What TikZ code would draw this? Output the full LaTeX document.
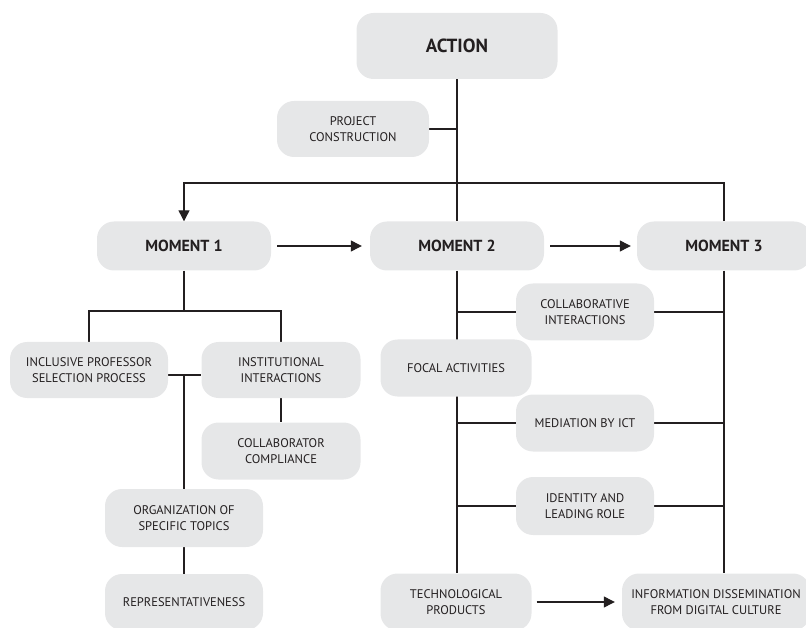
\documentclass[tikz,border=0pt]{standalone}
\usepackage{fontspec}
\setmainfont{PT Sans}
\usetikzlibrary{arrows.meta,backgrounds}
\definecolor{boxfill}{HTML}{E6E7E8}
\definecolor{ink}{HTML}{231F20}
\begin{document}
\begin{tikzpicture}[x=1pt,y=-1pt,
  box/.style={fill=boxfill,rounded corners=17pt,align=center,inner sep=2pt,
    font=\fontsize{12.5}{16.5}\selectfont,text=ink},
  bbox/.style={box,font=\fontsize{16}{18}\selectfont\bfseries},
  conn/.style={draw=ink,line width=1.2pt},
  arr/.style={conn,-{Triangle[length=11pt,width=11pt]}}]
\useasboundingbox (0,0) rectangle (806,628);
% nodes
\node[bbox,minimum width=201pt,minimum height=66pt,font=\fontsize{19}{22}\selectfont\bfseries] (act) at (457,46) {ACTION};
\node[box,minimum width=152pt,minimum height=56pt] (pc) at (353,129) {PROJECT\\CONSTRUCTION};
\node[bbox,minimum width=174pt,minimum height=49pt] (m1) at (184,246) {MOMENT 1};
\node[bbox,minimum width=174pt,minimum height=49pt] (m2) at (457,246) {MOMENT 2};
\node[bbox,minimum width=174pt,minimum height=49pt] (m3) at (724,246) {MOMENT 3};
\node[box,minimum width=158pt,minimum height=56pt] (ipsp) at (89,370) {INCLUSIVE PROFESSOR\\SELECTION PROCESS};
\node[box,minimum width=159pt,minimum height=56pt] (inst) at (281,370) {INSTITUTIONAL\\INTERACTIONS};
\node[box,minimum width=159pt,minimum height=57pt] (cc) at (281,451) {COLLABORATOR\\COMPLIANCE};
\node[box,minimum width=158pt,minimum height=58pt] (org) at (184,518) {ORGANIZATION OF\\SPECIFIC TOPICS};
\node[box,minimum width=158pt,minimum height=56pt] (rep) at (184,602) {REPRESENTATIVENESS};
\node[box,minimum width=138pt,minimum height=57pt] (ci) at (585,312) {COLLABORATIVE\\INTERACTIONS};
\node[box,minimum width=151pt,minimum height=57pt] (fa) at (456,368) {FOCAL ACTIVITIES};
\node[box,minimum width=138pt,minimum height=57pt] (med) at (585,423) {MEDIATION BY ICT};
\node[box,minimum width=138pt,minimum height=58pt] (idr) at (585,506) {IDENTITY AND\\LEADING ROLE};
\node[box,minimum width=151pt,minimum height=57pt] (tech) at (456,602) {TECHNOLOGICAL\\PRODUCTS};
\node[box,minimum width=188pt,minimum height=57pt] (info) at (716,602) {INFORMATION DISSEMINATION\\FROM DIGITAL CULTURE};
\coordinate (top) at (457,183);
\coordinate (b1) at (184,311);
\coordinate (j1) at (184,375);
% connectors
\begin{scope}[on background layer]
\draw[conn] (act.south) -- (m2.north);
\draw[conn] (pc.east) -- (pc.east -| act.south);
\draw[arr] (m3.north) |- (top) -| (m1.north);
\draw[arr] ([xshift=6pt]m1.east) -- ([xshift=-8pt]m2.west);
\draw[arr] ([xshift=6pt]m2.east) -- ([xshift=-6pt]m3.west);
\draw[conn] (m1.south) -- (b1);
\draw[conn] (ipsp.north) |- (b1) -| (inst.north);
\draw[conn] (ipsp.east |- j1) -- (inst.west |- j1);
\draw[conn] (j1) -- (org.north);
\draw[conn] (org.south) -- (rep.north);
\draw[conn] (inst.south) -- (cc.north);
\draw[conn] (m2.south) -- (m2.south |- tech.north);
\draw[conn] (m3.south) -- (m3.south |- info.north);
\draw[conn] (ci.west) -- (ci.west -| m2.south);
\draw[conn] (ci.east) -- (ci.east -| m3.south);
\draw[conn] (med.west) -- (med.west -| m2.south);
\draw[conn] (med.east) -- (med.east -| m3.south);
\draw[conn] (idr.west) -- (idr.west -| m2.south);
\draw[conn] (idr.east) -- (idr.east -| m3.south);
\draw[arr] ([xshift=5pt]tech.east) -- ([xshift=-7pt]info.west);
\end{scope}
\end{tikzpicture}
\end{document}
